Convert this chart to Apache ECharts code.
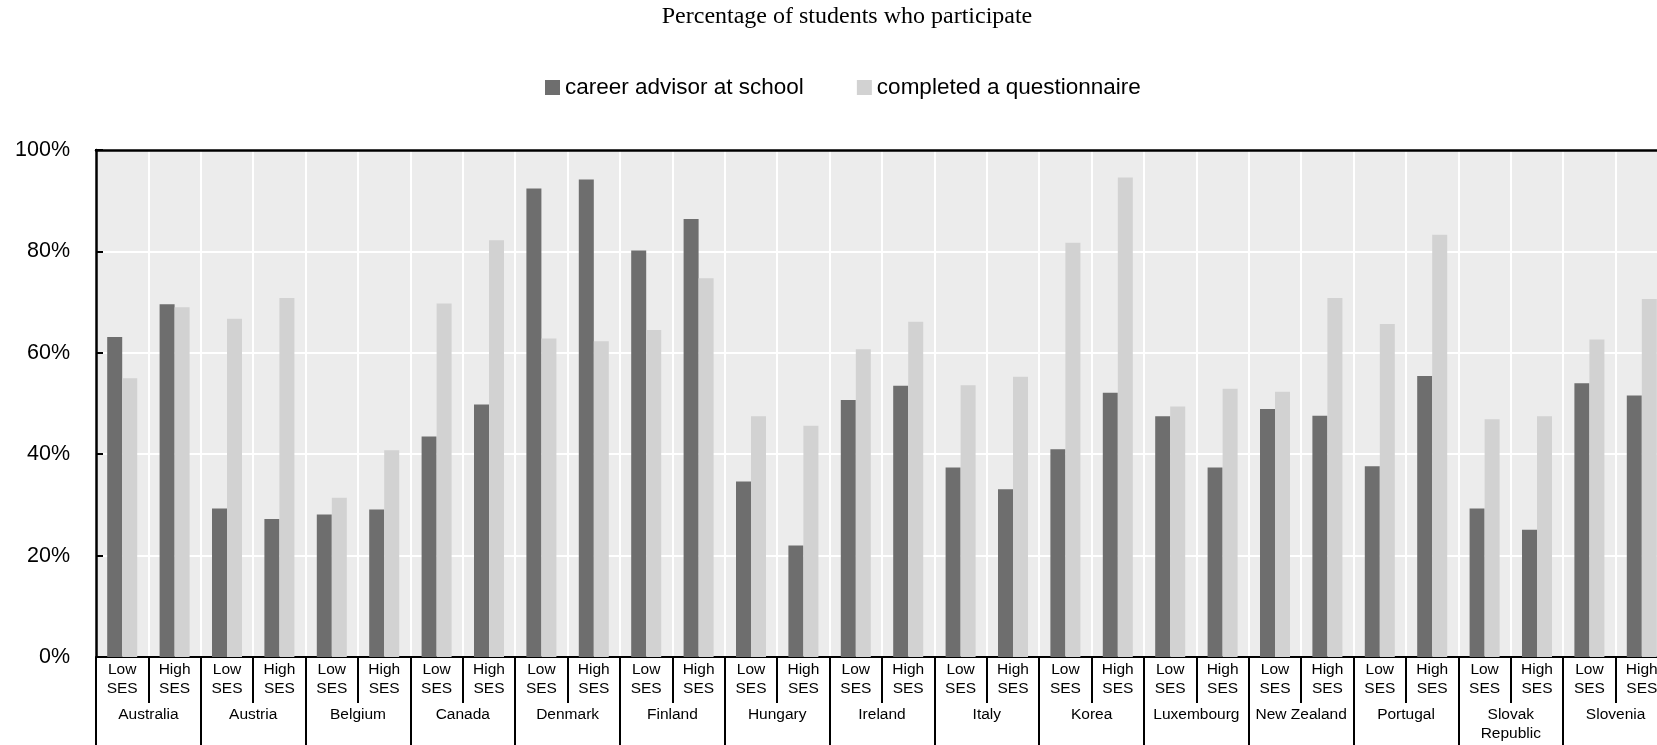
<!DOCTYPE html>
<html>
<head>
<meta charset="utf-8">
<script src="https://cdn.jsdelivr.net/npm/echarts@6/dist/echarts.min.js"></script>
<style>
html, body { margin: 0; padding: 0; background: #fff; overflow: hidden; }
#chart { width: 1657px; height: 745px; }
</style>
</head>
<body>
<div id="chart"></div>
<script>
const titleText = 'Percentage of students who participate';
const seriesNames = ['career advisor at school', 'completed a questionnaire'];
const countries = ['Australia', 'Austria', 'Belgium', 'Canada', 'Denmark', 'Finland', 'Hungary', 'Ireland', 'Italy', 'Korea', 'Luxembourg', 'New Zealand', 'Portugal', 'Slovak\nRepublic', 'Slovenia'];
const sesLevels = ['Low\nSES', 'High\nSES'];
const yTicks = [0, 20, 40, 60, 80, 100];
// values in %, ordered Low SES, High SES per country
const careerAdvisor = [63.1, 69.6, 29.3, 27.2, 28.1, 29.1, 43.5, 49.8, 92.4, 94.2, 80.2, 86.4, 34.6, 22.0, 50.7, 53.5, 37.4, 33.1, 41.0, 52.1, 47.5, 37.4, 48.9, 47.6, 37.6, 55.4, 29.3, 25.1, 54.0, 51.6];
const questionnaire = [55.0, 69.0, 66.7, 70.8, 31.4, 40.8, 69.7, 82.2, 62.8, 62.3, 64.5, 74.7, 47.5, 45.6, 60.7, 66.1, 53.6, 55.3, 81.7, 94.6, 49.4, 52.9, 52.3, 70.8, 65.7, 83.3, 46.9, 47.5, 62.6, 70.6];

const categories = [];
countries.forEach(function (c) { sesLevels.forEach(function (s) { categories.push(c + '|' + s); }); });

const sans = '"Liberation Sans", Arial, sans-serif';
const chart = echarts.init(document.getElementById('chart'), null, { renderer: 'canvas' });
const catWidth = 52.4;
const option = {
  animation: false,
  backgroundColor: '#ffffff',
  title: {
    text: titleText,
    left: 847, top: 5, textAlign: 'center', padding: 0,
    textStyle: { fontFamily: '"Liberation Serif", "Times New Roman", serif', fontWeight: 'normal', fontSize: 24, color: '#000' }
  },
  legend: {
    data: seriesNames,
    left: 545, top: 76, padding: 0,
    icon: 'rect', itemWidth: 15, itemHeight: 15, itemGap: 53,
    textStyle: { fontFamily: sans, fontSize: 22.5, color: '#000' }
  },
  grid: {
    left: 96, top: 150, width: catWidth * categories.length, height: 507,
    show: true, backgroundColor: '#ececec', borderColor: '#000', borderWidth: 2,
    outerBoundsMode: 'none', containLabel: false
  },
  xAxis: [
    {
      type: 'category', data: categories, position: 'bottom',
      axisLine: { show: true, lineStyle: { color: '#000', width: 2 } },
      axisTick: { show: true, interval: 0, length: 46, lineStyle: { color: '#000', width: 2 } },
      splitLine: { show: true, interval: 0, lineStyle: { color: '#ffffff', width: 2 } },
      axisLabel: {
        interval: 0, margin: 3, fontFamily: sans, fontSize: 15.5, lineHeight: 19, color: '#000',
        formatter: function (v) { return v.split('|')[1]; }
      }
    },
    {
      type: 'category', data: countries, position: 'bottom', offset: 0,
      axisLine: { show: false },
      axisTick: { show: true, interval: 0, length: 100, lineStyle: { color: '#000', width: 2 } },
      splitLine: { show: false },
      axisLabel: { interval: 0, margin: 48, fontFamily: sans, fontSize: 15.5, lineHeight: 19, color: '#000' }
    },
    {
      type: 'category', data: categories, position: 'top', offset: 0,
      axisLine: { show: true, lineStyle: { color: '#000', width: 2.5 } },
      axisTick: { show: false }, axisLabel: { show: false }, splitLine: { show: false }
    }
  ],
  yAxis: {
    type: 'value', min: yTicks[0], max: yTicks[yTicks.length - 1], interval: yTicks[1] - yTicks[0],
    axisLine: { show: true, lineStyle: { color: '#000', width: 2.5 } },
    axisTick: { show: true, inside: true, length: 7, lineStyle: { color: '#000', width: 2 } },
    splitLine: { show: true, lineStyle: { color: '#ffffff', width: 2 } },
    axisLabel: { margin: 26, fontFamily: sans, fontSize: 21.5, color: '#000', formatter: '{value}%' }
  },
  series: [
    { name: seriesNames[0], type: 'bar', xAxisIndex: 0, data: careerAdvisor, barWidth: 15, barGap: '0%', itemStyle: { color: '#6e6e6e' } },
    { name: seriesNames[1], type: 'bar', xAxisIndex: 0, data: questionnaire, barWidth: 15, barGap: '0%', itemStyle: { color: '#d2d2d2' } }
  ]
};
chart.setOption(option);
</script>
</body>
</html>
